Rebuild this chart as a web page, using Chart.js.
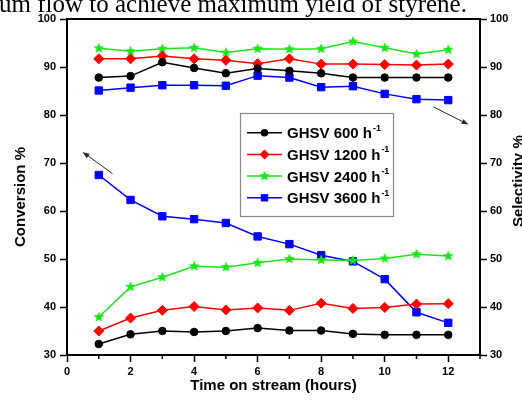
<!DOCTYPE html>
<html>
<head>
<meta charset="utf-8">
<script src="https://cdn.jsdelivr.net/npm/chart.js@4.4.0/dist/chart.umd.min.js"></script>
<style>
  html, body { margin: 0; padding: 0; background: #fff; }
  canvas { display: block; }
</style>
</head>
<body>
<canvas id="c" width="522" height="402"></canvas>
<script>
// Time on stream (hours)
const hours = [1, 2, 3, 4, 5, 6, 7, 8, 9, 10, 11, 12];

// Conversion % for each GHSV
const conv600  = [32.3, 34.3, 35.0, 34.8, 35.0, 35.6, 35.1, 35.1, 34.4, 34.2, 34.2, 34.2];
const conv1200 = [35.0, 37.7, 39.3, 40.1, 39.4, 39.8, 39.3, 40.8, 39.7, 39.9, 40.6, 40.7];
const conv2400 = [37.9, 44.2, 46.2, 48.5, 48.3, 49.2, 50.0, 49.8, 49.7, 50.1, 51.0, 50.6];
const conv3600 = [67.5, 62.3, 58.9, 58.3, 57.5, 54.7, 53.1, 50.8, 49.5, 45.8, 38.9, 36.7];

// Selectivity % for each GHSV
const sel600  = [87.8, 88.1, 91.0, 89.8, 88.7, 89.7, 89.2, 88.7, 87.8, 87.8, 87.8, 87.8];
const sel1200 = [91.7, 91.7, 92.3, 91.7, 91.4, 90.7, 91.7, 90.6, 90.6, 90.5, 90.4, 90.6];
const sel2400 = [93.9, 93.3, 93.8, 94.0, 93.0, 93.8, 93.7, 93.8, 95.3, 94.0, 92.7, 93.6];
const sel3600 = [85.1, 85.7, 86.2, 86.2, 86.1, 88.2, 87.8, 85.8, 86.0, 84.4, 83.3, 83.1];

// Legend labels (the "-1" exponent is drawn as a superscript)
const seriesLabels = ['GHSV 600 h', 'GHSV 1200 h', 'GHSV 2400 h', 'GHSV 3600 h'];
const unitExponent = '-1';

// Axis ticks and titles
const xTicks = [0, 2, 4, 6, 8, 10, 12];
const yTicks = [30, 40, 50, 60, 70, 80, 90, 100];
const xTitle = 'Time on stream (hours)';
const yLeftTitle = 'Conversion %';
const yRightTitle = 'Selectivity %';
const caption = 'um flow to achieve maximum yield of styrene.';

const FONT = "'Liberation Sans', Arial, sans-serif";
const colors = ['#000000', '#ff0000', '#19e619', '#0000ff'];

function starMarker(color, r) {
  const c = document.createElement('canvas');
  const s = Math.ceil(r * 2 + 2);
  c.width = c.height = s;
  const g = c.getContext('2d');
  g.fillStyle = color;
  g.beginPath();
  for (let i = 0; i < 10; i++) {
    const rad = i % 2 ? r * 0.45 : r;
    const ang = -Math.PI / 2 + i * Math.PI / 5;
    g.lineTo(s / 2 + rad * Math.cos(ang), s / 2 + rad * Math.sin(ang));
  }
  g.closePath();
  g.fill();
  return c;
}
const star = starMarker(colors[2], 5.6);

const styles = [
  { pointStyle: 'circle', pointRadius: 3.8 },
  { pointStyle: 'rectRot', pointRadius: 5 },
  { pointStyle: star, pointRadius: 6 },
  { pointStyle: 'rect', pointRadius: 5.2 }
];

function series(values, i, axis) {
  return {
    label: seriesLabels[i] + unitExponent,
    data: values.map((v, k) => ({ x: hours[k], y: v })),
    yAxisID: axis,
    borderColor: colors[i],
    backgroundColor: colors[i],
    pointBorderColor: colors[i],
    pointBackgroundColor: colors[i],
    borderWidth: 1.5,
    pointBorderWidth: 1,
    pointStyle: styles[i].pointStyle,
    pointRadius: styles[i].pointRadius,
    pointHoverRadius: styles[i].pointRadius,
    tension: 0
  };
}

const convSets = [conv600, conv1200, conv2400, conv3600];
const selSets = [sel600, sel1200, sel2400, sel3600];

function drawMarker(ctx, i, x, y) {
  const r = styles[i].pointRadius;
  ctx.fillStyle = colors[i];
  ctx.beginPath();
  if (i === 0) {
    ctx.arc(x, y, r, 0, Math.PI * 2);
  } else if (i === 1) {
    ctx.moveTo(x, y - r); ctx.lineTo(x + r, y); ctx.lineTo(x, y + r); ctx.lineTo(x - r, y);
    ctx.closePath();
  } else if (i === 2) {
    ctx.drawImage(star, x - star.width / 2, y - star.height / 2);
    return;
  } else {
    const h = r * Math.SQRT1_2;
    ctx.rect(x - h, y - h, 2 * h, 2 * h);
  }
  ctx.fill();
}

function arrow(ctx, x1, y1, x2, y2) {
  const ang = Math.atan2(y2 - y1, x2 - x1);
  const L = 7, W = 2.6;
  ctx.strokeStyle = '#2a2a2a';
  ctx.fillStyle = '#2a2a2a';
  ctx.lineWidth = 1;
  ctx.beginPath();
  ctx.moveTo(x1, y1);
  ctx.lineTo(x2 - L * 0.8 * Math.cos(ang), y2 - L * 0.8 * Math.sin(ang));
  ctx.stroke();
  ctx.beginPath();
  ctx.moveTo(x2, y2);
  ctx.lineTo(x2 - L * Math.cos(ang) - W * Math.sin(ang), y2 - L * Math.sin(ang) + W * Math.cos(ang));
  ctx.lineTo(x2 - L * Math.cos(ang) + W * Math.sin(ang), y2 - L * Math.sin(ang) - W * Math.cos(ang));
  ctx.closePath();
  ctx.fill();
}

const decor = {
  id: 'decor',
  beforeDraw(chart) {
    const ctx = chart.ctx;
    ctx.save();
    ctx.fillStyle = '#ffffff';
    ctx.fillRect(0, 0, chart.width, chart.height);
    ctx.restore();
  },
  afterDraw(chart) {
    const { ctx, chartArea: a, scales } = chart;
    const x = scales.x, y = scales.y;
    ctx.save();

    // top frame line
    ctx.strokeStyle = '#000';
    ctx.lineWidth = 2;
    ctx.beginPath();
    ctx.moveTo(a.left - 1, a.top);
    ctx.lineTo(a.right + 1, a.top);
    ctx.stroke();

    // minor ticks on the time axis
    ctx.lineWidth = 1.5;
    for (let h = 1; h <= 13; h += 2) {
      const px = x.getPixelForValue(h);
      ctx.beginPath();
      ctx.moveTo(px, a.bottom);
      ctx.lineTo(px, a.bottom + 4);
      ctx.stroke();
    }

    // vertical axis titles
    ctx.fillStyle = '#000';
    ctx.font = 'bold 15px ' + FONT;
    ctx.textBaseline = 'alphabetic';
    ctx.textAlign = 'left';
    ctx.save();
    ctx.translate(25, 247);
    ctx.rotate(-Math.PI / 2);
    ctx.fillText(yLeftTitle, 0, 0);
    ctx.restore();
    ctx.save();
    ctx.translate(523, 227);
    ctx.rotate(-Math.PI / 2);
    ctx.fillText(yRightTitle, 0, 0);
    ctx.restore();

    // trend arrows pointing to each axis
    arrow(ctx, x.getPixelForValue(1.43), y.getPixelForValue(67.8),
               x.getPixelForValue(0.49), y.getPixelForValue(72.3));
    arrow(ctx, x.getPixelForValue(11.53), y.getPixelForValue(81.7),
               x.getPixelForValue(12.64), y.getPixelForValue(78.0));

    // legend box
    const bx = 240, by = 113, bw = 153, bh = 103;
    ctx.fillStyle = '#ffffff';
    ctx.fillRect(bx, by, bw, bh);
    ctx.strokeStyle = '#8a8a8a';
    ctx.lineWidth = 1.2;
    ctx.strokeRect(bx + 0.5, by + 0.5, bw, bh);
    for (let i = 0; i < 4; i++) {
      const ry = 132.7 + i * 21.7;
      ctx.strokeStyle = colors[i];
      ctx.lineWidth = 1.5;
      ctx.beginPath();
      ctx.moveTo(247, ry);
      ctx.lineTo(282, ry);
      ctx.stroke();
      drawMarker(ctx, i, 264.5, ry);
      ctx.fillStyle = '#000';
      ctx.font = 'bold 15px ' + FONT;
      ctx.textAlign = 'left';
      ctx.textBaseline = 'alphabetic';
      const base = ry + 5.4;
      ctx.fillText(seriesLabels[i], 287, base);
      const w = ctx.measureText(seriesLabels[i]).width;
      ctx.font = 'bold 9px ' + FONT;
      ctx.fillText(unitExponent, 287 + w + 1, base - 7.5);
    }

    // caption line of the surrounding page
    ctx.fillStyle = '#000';
    ctx.font = "25px 'Liberation Serif', 'Times New Roman', serif";
    ctx.textAlign = 'left';
    ctx.textBaseline = 'alphabetic';
    ctx.fillText(caption, -1, 12);

    ctx.restore();
  }
};

const tickFont = { family: FONT, size: 11, weight: 'bold' };
const axisGrid = {
  display: true,
  drawOnChartArea: false,
  drawTicks: true,
  tickLength: 7,
  tickWidth: 1.5,
  tickColor: '#000',
  color: '#000'
};
const axisBorder = { display: true, color: '#000', width: 2 };

function keepTicks(list) {
  return (scale) => {
    scale.ticks = list.map(v => ({ value: v }));
  };
}

new Chart(document.getElementById('c'), {
  type: 'line',
  data: {
    datasets: [
      ...convSets.map((s, i) => series(s, i, 'y')),
      ...selSets.map((s, i) => series(s, i, 'y2'))
    ]
  },
  options: {
    responsive: false,
    animation: false,
    events: [],
    layout: { padding: { top: 19, left: 0, right: 0, bottom: 0 } },
    plugins: { legend: { display: false }, tooltip: { enabled: false } },
    scales: {
      x: {
        type: 'linear',
        position: 'bottom',
        min: 0,
        max: 13,
        afterBuildTicks: keepTicks(xTicks),
        afterFit: (s) => { s.height = 47; },
        ticks: { font: tickFont, color: '#000', padding: 3, maxRotation: 0 },
        grid: axisGrid,
        border: axisBorder,
        title: {
          display: true,
          text: xTitle,
          color: '#000',
          font: { family: FONT, size: 15, weight: 'bold', lineHeight: 1.2 },
          padding: { top: 0, bottom: 7 }
        }
      },
      y: {
        type: 'linear',
        position: 'left',
        min: 30,
        max: 100,
        afterBuildTicks: keepTicks(yTicks),
        afterFit: (s) => { s.width = 67; },
        ticks: { font: tickFont, color: '#000', padding: 4 },
        grid: axisGrid,
        border: axisBorder
      },
      y2: {
        type: 'linear',
        position: 'right',
        min: 30,
        max: 100,
        afterBuildTicks: keepTicks(yTicks),
        afterFit: (s) => { s.width = 42; },
        ticks: { font: tickFont, color: '#000', padding: 3 },
        grid: axisGrid,
        border: axisBorder
      }
    }
  },
  plugins: [decor]
});
</script>
</body>
</html>
